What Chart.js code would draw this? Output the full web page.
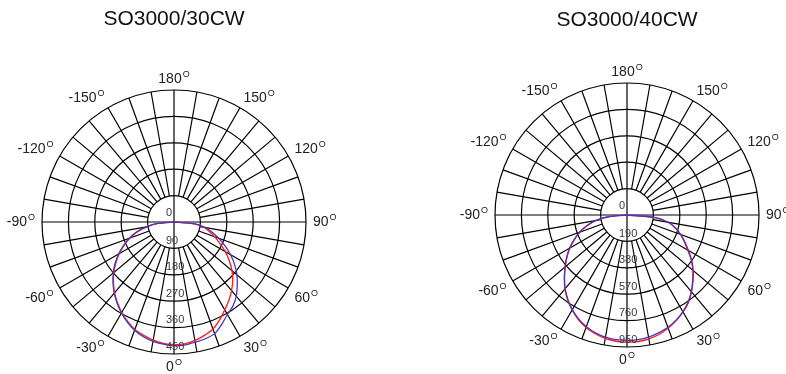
<!DOCTYPE html>
<html>
<head>
<meta charset="utf-8">
<script src="https://cdn.jsdelivr.net/npm/chart.js@4.4.1/dist/chart.umd.min.js"></script>
<style>
    html, body { margin: 0; padding: 0; background: #fff; }
    #wrap { position: relative; width: 786px; height: 374px; overflow: hidden; }
    canvas { position: absolute; top: 0; }
</style>
</head>
<body>
<div id="wrap">
    <canvas id="chartLeft" width="393" height="374" style="left:0"></canvas>
    <canvas id="chartRight" width="393" height="374" style="left:393px"></canvas>
</div>
<script>
// angles in degrees from straight down (0), positive to the right
const angles = [-90, -85, -80, -75, -70, -65, -60, -55, -50, -45, -40, -35, -30, -25, -20, -15, -10, -5,
    0, 5, 10, 15, 20, 25, 30, 35, 40, 45, 50, 55, 60, 65, 70, 75, 80, 85, 90];

const angleLabels = [180, 150, 120, 90, 60, 30, 0, -30, -60, -90, -120, -150];

const leftTitle = "SO3000/30CW";
const leftTicks = [0, 90, 180, 270, 360, 450];
const leftRed = [0, 55, 95, 130, 160, 188, 215, 242, 268, 292, 315, 336, 356, 374, 390, 400, 409, 415,
    418, 417, 410, 400, 388, 368, 346, 326, 305, 283, 258, 230, 202, 172, 148, 125, 103, 70, 0];
const leftBlue = [0, 55, 95, 132, 162, 190, 218, 245, 270, 294, 317, 338, 358, 377, 393, 405, 413, 418,
    422, 421, 416, 412, 405, 385, 364, 350, 330, 305, 280, 252, 222, 192, 162, 135, 108, 72, 0];

const rightTitle = "SO3000/40CW";
const rightTicks = [0, 190, 380, 570, 760, 950];
const rightRed = [0, 130, 230, 300, 365, 420, 478, 530, 582, 638, 695, 745, 790, 830, 862, 885, 902, 912,
    915, 914, 905, 890, 866, 838, 805, 765, 720, 668, 618, 565, 505, 455, 410, 360, 300, 195, 0];
const rightBlue = [0, 125, 225, 298, 362, 418, 475, 528, 580, 636, 692, 742, 786, 825, 855, 878, 893, 901,
    903, 900, 892, 878, 860, 835, 806, 770, 722, 672, 622, 568, 510, 460, 412, 362, 302, 198, 0];

const FONT = "'Liberation Sans', Arial, sans-serif";

/* radar labels every 5 degrees, clockwise starting at the bottom */
const radarLabels = Array.from({ length: 72 }, (_, i) => {
    let a = -5 * i;
    if (a <= -180) a += 360;
    return a === 0 ? 0 : a;
});

/**
 * @param {number[]} values
 */
function toRadar(values) {
    return radarLabels.map(a => {
        const k = angles.indexOf(a);
        return k >= 0 ? values[k] : null;
    });
}

const polarDecor = {
    id: "polarDecor",
    beforeDatasetsDraw(chart) {
        const scale = chart.scales.r;
        const ctx = chart.ctx;
        const ticks = chart.options.plugins.polarDecor.ticks;
        const inner = scale.getDistanceFromCenterForValue(ticks[1]);
        const outer = scale.getDistanceFromCenterForValue(scale.max);
        ctx.save();
        ctx.strokeStyle = "#000";
        ctx.lineWidth = 1.2;
        ctx.beginPath();
        radarLabels.forEach((a, i) => {
            if (a % 10 !== 0) return;
            const from = a % 90 === 0 ? 0 : inner;
            const p0 = scale.getPointPosition(i, from);
            const p1 = scale.getPointPosition(i, outer);
            ctx.moveTo(p0.x, p0.y);
            ctx.lineTo(p1.x, p1.y);
        });
        ctx.stroke();
        ctx.restore();
    },
    afterDatasetsDraw(chart) {
        const scale = chart.scales.r;
        const ctx = chart.ctx;
        const ticks = chart.options.plugins.polarDecor.ticks;
        const xc = scale.xCenter, yc = scale.yCenter;
        const outer = scale.getDistanceFromCenterForValue(scale.max);
        ctx.save();

        // value labels down the 0 degree axis
        ctx.font = `11px ${FONT}`;
        ctx.fillStyle = "#3a3a3a";
        ctx.textAlign = "left";
        ctx.textBaseline = "middle";
        ticks.forEach(v => {
            const r = scale.getDistanceFromCenterForValue(v);
            ctx.fillText(String(v), xc - 8, v === 0 ? yc - 9 : yc + r - 7.5);
        });

        // angle labels with a raised "O" as degree sign
        ctx.fillStyle = "#222";
        ctx.textBaseline = "alphabetic";
        const K = outer + 7;
        const cap = 10;
        angleLabels.forEach(a => {
            const i = radarLabels.indexOf(a);
            const p = scale.getPointPosition(i, K);
            const dx = (p.x - xc) / K, dy = (p.y - yc) / K;
            const main = String(a);
            ctx.font = `14px ${FONT}`;
            const w1 = ctx.measureText(main).width;
            ctx.font = `9px ${FONT}`;
            const w2 = ctx.measureText("O").width;
            const w = w1 + 1 + w2;
            let left;
            if (Math.abs(dx) < 0.05) left = p.x - w / 2;
            else if (dx > 0) left = p.x;
            else left = p.x - w;
            let base;
            if (Math.abs(dy) < 0.05) base = p.y + cap / 2 - 1.5;
            else if (dy < 0) base = p.y;
            else base = p.y + cap;
            ctx.font = `14px ${FONT}`;
            ctx.fillText(main, left, base);
            ctx.font = `9px ${FONT}`;
            ctx.fillText("O", left + w1 + 1, base - 6);
        });
        ctx.restore();
    }
};

/**
 * @param {string} id
 * @param {string} title
 * @param {number[]} ticks
 * @param {number[]} red
 * @param {number[]} blue
 * @param {object} pad
 */
function makePolar(id, title, ticks, red, blue, pad) {
    new Chart(document.getElementById(id), {
        type: "radar",
        data: {
            labels: radarLabels,
            datasets: [{
                data: toRadar(blue),
                borderColor: "#4b36bd",
                borderWidth: 1.3,
                pointRadius: 0,
                fill: false,
                spanGaps: true,
                tension: 0.2
            }, {
                data: toRadar(red),
                borderColor: "#ff1a1a",
                borderWidth: 1.3,
                pointRadius: 0,
                fill: false,
                spanGaps: true,
                tension: 0.2
            }]
        },
        options: {
            responsive: false,
            animation: false,
            events: [],
            layout: { padding: pad.layout },
            plugins: {
                legend: { display: false },
                tooltip: { enabled: false },
                title: {
                    display: true,
                    text: title,
                    color: "#111",
                    font: { family: FONT, size: 21, weight: "normal" },
                    padding: pad.title
                },
                polarDecor: { ticks: ticks }
            },
            scales: {
                r: {
                    min: 0,
                    max: ticks[ticks.length - 1],
                    startAngle: 180,
                    ticks: { display: false, stepSize: ticks[1] },
                    pointLabels: { display: false },
                    angleLines: { display: false },
                    grid: { circular: true, color: "#000", lineWidth: 1.2 }
                }
            }
        },
        plugins: [polarDecor]
    });
}

makePolar("chartLeft", leftTitle, leftTicks, leftRed, leftBlue, {
    layout: { left: 42, right: 87, top: 0, bottom: 19.9 },
    title: { top: 6.5, bottom: 58.31 }
});
makePolar("chartRight", rightTitle, rightTicks, rightRed, rightBlue, {
    layout: { left: 102, right: 27, top: 0, bottom: 26.9 },
    title: { top: 8, bottom: 49.81 }
});
</script>
</body>
</html>
